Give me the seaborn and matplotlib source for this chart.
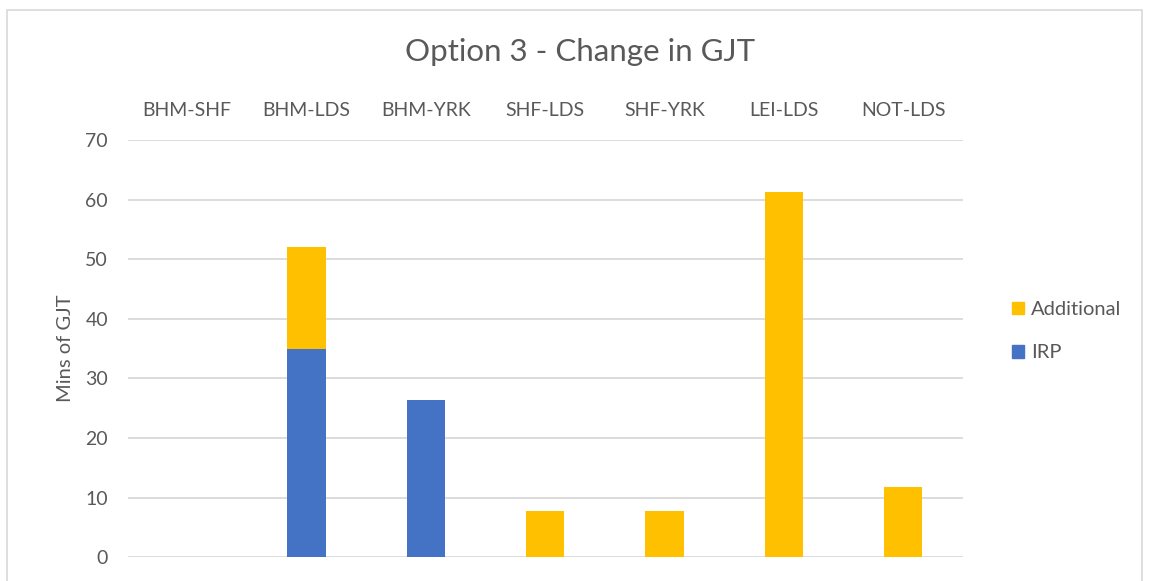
import matplotlib
matplotlib.use("Agg")
import matplotlib.pyplot as plt
import matplotlib.patches as mpatches
import pandas as pd
import seaborn as sns

# values
routes = ["BHM-SHF", "BHM-LDS", "BHM-YRK", "SHF-LDS", "SHF-YRK", "LEI-LDS", "NOT-LDS"]
irp = [0, 35, 26.3, 0, 0, 0, 0]
additional = [0, 17, 0, 7.7, 7.7, 61.3, 11.8]

blue = "#4472C4"
gold = "#FFC000"

df = pd.DataFrame({"route": routes, "IRP": irp, "Additional": additional})
df["total"] = df["IRP"] + df["Additional"]

sns.set_style("white")
plt.rcParams["font.family"] = ["Lato", "DejaVu Sans"]

fig = plt.figure(figsize=(11.49, 5.81), dpi=100)
ax = fig.add_axes([0.111, 0.041, 0.727, 0.718])

# stacked bars: total in gold, IRP drawn over it in blue
sns.barplot(data=df, x="route", y="total", color=gold, width=0.32,
            saturation=1, linewidth=0, ax=ax, zorder=3)
sns.barplot(data=df, x="route", y="IRP", color=blue, width=0.32,
            saturation=1, linewidth=0, ax=ax, zorder=4)

ax.set_ylim(0, 70)
ax.set_yticks(range(0, 71, 10))
ax.yaxis.grid(True, color="#D9D9D9", linewidth=1.3)
ax.set_axisbelow(True)
for s in ax.spines.values():
    s.set_visible(False)

ax.xaxis.tick_top()
ax.tick_params(axis="x", length=0, pad=15, labelsize=14, labelcolor="#595959")
ax.tick_params(axis="y", length=0, pad=14, labelsize=14, labelcolor="#595959")
ax.set_xlabel("")
ax.set_ylabel("Mins of GJT", fontsize=14.5, color="#595959", labelpad=8)

fig.text(0.505, 0.91, "Option 3 - Change in GJT", ha="center", va="center",
         fontsize=22.5, color="#595959")

handles = [mpatches.Patch(color=gold, label="Additional"),
           mpatches.Patch(color=blue, label="IRP")]
fig.legend(handles=handles, loc="center left", bbox_to_anchor=(0.865, 0.43),
           frameon=False, fontsize=14.5, labelcolor="#595959",
           handlelength=0.6, handleheight=0.6, handletextpad=0.35,
           labelspacing=1.3)

# light chart border like the spreadsheet frame
fig.patches.append(mpatches.Rectangle((0.006, -0.01), 0.988, 0.993,
                                      transform=fig.transFigure, fill=False,
                                      edgecolor="#D9D9D9", linewidth=1.2))

fig.savefig("out.png", dpi=100, facecolor="white")
